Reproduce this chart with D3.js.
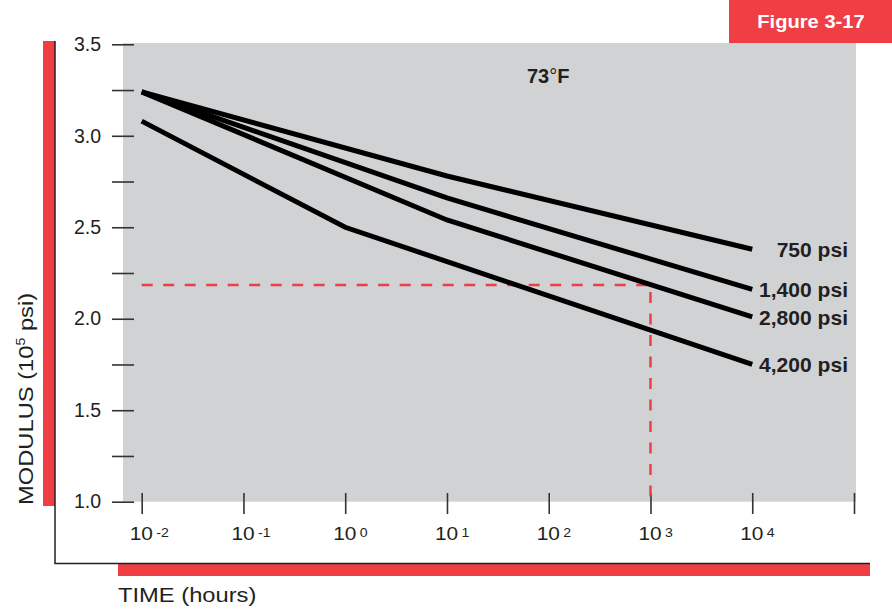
<!DOCTYPE html>
<html>
<head>
<meta charset="utf-8">
<script src="https://cdn.jsdelivr.net/npm/d3@7"></script>
<style>
  body { margin: 0; background: #fff; }
  svg { display: block; font-family: "Liberation Sans", Arial, Helvetica, sans-serif; }
</style>
</head>
<body>
<svg id="chart" width="892" height="609"></svg>
<script>
// ---- data ----
const timeHours = [0.01, 1, 10, 10000];           // x breakpoints (hours)
const series750  = [3.24, null, 2.78, 2.38];
const series1400 = [3.24, null, 2.66, 2.16];
const series2800 = [3.24, null, 2.54, 2.01];
const series4200 = [3.08, 2.50, null, 1.75];
const seriesNames = ["750 psi", "1,400 psi", "2,800 psi", "4,200 psi"];
const yTickValues = [1.0, 1.25, 1.5, 1.75, 2.0, 2.25, 2.5, 2.75, 3.0, 3.25, 3.5];
const xTickExponents = [-2, -1, 0, 1, 2, 3, 4, 5];
const xLabelExponents = [-2, -1, 0, 1, 2, 3, 4];
const guideModulus = 2.185;
const guideTime = 1000;
const tempLabel = "73";
const figureLabel = "Figure 3-17";

const RED = "#ef3e44";
const GRAY = "#d1d2d4";
const INK = "#231f20";
const WIDE = 1.13; // horizontal stretch to mimic the wider original typeface

const svg = d3.select("#chart");

const x = d3.scaleLog().domain([1e-2, 1e5]).range([141.7, 854]);
const y = d3.scaleLinear().domain([1.0, 3.5]).range([501.7, 44.3]);

function wideText(parent, ax, ay, anchor, k) {
  return parent.append("text")
    .attr("transform", `translate(${ax},${ay}) scale(${k || WIDE},1)`)
    .attr("text-anchor", anchor || "start");
}

// plot background
svg.append("rect").attr("x", 123).attr("y", 43).attr("width", 856 - 123).attr("height", 501.7 - 43).attr("fill", GRAY);

// figure label box
svg.append("rect").attr("x", 729).attr("y", 0).attr("width", 892 - 729).attr("height", 43).attr("fill", RED);
wideText(svg, 811, 27.5, "middle", 1.06)
  .attr("fill", "#fff").attr("font-weight", "bold").attr("font-size", 19).text(figureLabel);

// frame: red bars + black L
svg.append("rect").attr("x", 43).attr("y", 41).attr("width", 12).attr("height", 506 - 41).attr("fill", RED);
svg.append("rect").attr("x", 118).attr("y", 564).attr("width", 870 - 118).attr("height", 12).attr("fill", RED);
svg.append("path").attr("d", "M55,41 V563.5 H870").attr("fill", "none").attr("stroke", INK).attr("stroke-width", 1.5);

// y axis
const yAxis = d3.axisLeft(y).tickValues(yTickValues).tickSize(22).tickPadding(11)
  .tickFormat(d => (Math.abs(d * 2 - Math.round(d * 2)) < 1e-9) ? d.toFixed(1) : "");
const gy = svg.append("g").attr("transform", "translate(134,0)").call(yAxis);
gy.select(".domain").remove();
gy.selectAll(".tick line").attr("stroke", "#333").attr("stroke-width", 1.6);
gy.selectAll(".tick text").attr("font-size", 19.5).attr("fill", INK)
  .attr("font-family", "Liberation Sans, Arial, sans-serif");

// x axis
const xAxis = d3.axisBottom(x).tickValues(xTickExponents.map(e => Math.pow(10, e))).tickSize(21).tickFormat("");
const gx = svg.append("g").attr("transform", "translate(0,493)").call(xAxis);
gx.select(".domain").remove();
gx.selectAll(".tick line").attr("stroke", "#333").attr("stroke-width", 1.6);

const xl = svg.append("g");
xLabelExponents.forEach(e => {
  const t = wideText(xl, x(Math.pow(10, e)) - 12, 540).attr("font-size", 18.5).attr("fill", INK);
  t.append("tspan").text("10");
  t.append("tspan").attr("dx", 3).attr("dy", -3).attr("font-size", 12.5)
    .text(e < 0 ? "-" + Math.abs(e) : String(e));
});

// axis titles
wideText(svg, 118, 602).attr("font-size", 21).attr("fill", INK).text("TIME (hours)");
const yt = svg.append("text")
  .attr("transform", `translate(33,505) rotate(-90) scale(${WIDE},1)`)
  .attr("font-size", 21).attr("fill", INK);
yt.append("tspan").text("MODULUS (10");
yt.append("tspan").attr("dy", -8).attr("font-size", 12.5).text("5");
yt.append("tspan").attr("dy", 8).text(" psi)");

// guide dashed lines
svg.append("path")
  .attr("d", `M${x(0.01)},${y(guideModulus)} H${x(guideTime)} V${y(1.0)}`)
  .attr("fill", "none").attr("stroke", "#e8404a").attr("stroke-width", 2.5)
  .attr("stroke-dasharray", "11,10.5");

// curves
const allSeries = [series750, series1400, series2800, series4200];
const line = d3.line().x(d => x(d[0])).y(d => y(d[1]));
allSeries.forEach((s, i) => {
  const pts = timeHours.map((t, j) => [t, s[j]]).filter(p => p[1] != null);
  svg.append("path").datum(pts).attr("d", line).attr("fill", "none")
    .attr("stroke", "#000").attr("stroke-width", 5);
  const last = pts[pts.length - 1];
  wideText(svg, 848, y(last[1]) + 8, "end", 1.08)
    .attr("font-weight", "bold").attr("font-size", 19.5)
    .attr("fill", INK).text(seriesNames[i]);
});

// temperature label
const tl = svg.append("text").attr("x", 527).attr("y", 83).attr("font-size", 20).attr("fill", INK);
tl.append("tspan").attr("font-weight", "bold").text(tempLabel);
tl.append("tspan").text("°");
tl.append("tspan").attr("font-weight", "bold").text("F");
</script>
</body>
</html>
